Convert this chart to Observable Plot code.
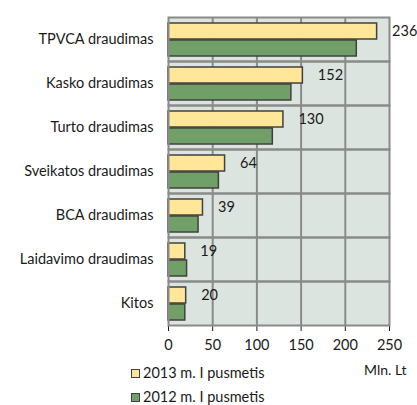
<!DOCTYPE html>
<html>
<head>
<meta charset="utf-8">
<script src="https://cdn.jsdelivr.net/npm/d3@7"></script>
<script src="https://cdn.jsdelivr.net/npm/@observablehq/plot@0.6"></script>
<style>
  body { margin: 0; background: #fff; }
  #wrap { position: relative; width: 417px; height: 405px; font-family: Lato, "Open Sans", sans-serif; font-size: 14.5px; color: #1a1a1a; }
  .leg { position: absolute; left: 131px; display: flex; align-items: center; white-space: nowrap; line-height: 18px; }
  .sw { width: 7px; height: 7px; border: 1px solid #404040; margin-right: 3px; }
  #unit { position: absolute; left: 364px; top: 361px; font-size: 14px; line-height: 18px; }
</style>
</head>
<body>
<div id="wrap"></div>
<script>
const categories = ["TPVCA draudimas","Kasko draudimas","Turto draudimas","Sveikatos draudimas","BCA draudimas","Laidavimo draudimas","Kitos"];
const series = ["2013 m. I pusmetis","2012 m. I pusmetis"];
const values2013 = [236,152,130,64,39,19,20];
const values2012 = [213,139,118,57,34,21,19];
const xTicks = [0,50,100,150,200,250];
const gridLines = [50,100,150,200];
const colors = ["#FFE699","#70A068"];
const unitLabel = "Mln. Lt";

const data = [];
categories.forEach((c, i) => {
  data.push({category: c, series: series[0], value: values2013[i]});
  data.push({category: c, series: series[1], value: values2012[i]});
});
const labels2013 = data.filter(d => d.series === series[0]);

const chart = Plot.plot({
  width: 417,
  height: 360,
  marginLeft: 168,
  marginRight: 28,
  marginTop: 16,
  marginBottom: 35,
  style: {fontFamily: "Lato, 'Open Sans', sans-serif", fontSize: "14.5px", color: "#1a1a1a", background: "transparent"},
  x: {domain: [0, 250], ticks: xTicks, label: null, tickSize: 6, tickPadding: 8},
  fy: {domain: categories, padding: 0, label: null, tickSize: 0, tickPadding: 15, axis: "left"},
  y: {domain: series, paddingInner: 0.06, paddingOuter: 0.32, axis: null},
  color: {domain: series, range: colors},
  marks: [
    Plot.frame({fill: "#DCE4DF", stroke: null}),
    Plot.ruleX(gridLines, {stroke: "#8a8a8a", strokeWidth: 2}),
    Plot.barX(data, {x: "value", y: "series", fy: "category", fill: "series", stroke: "#404040", strokeWidth: 1.5}),
    Plot.text(labels2013, {x: "value", y: "series", fy: "category", text: d => String(d.value), dx: 15, textAnchor: "start", fill: "#1a1a1a", fontSize: 14.5}),
    Plot.frame({stroke: "#8a8a8a", strokeWidth: 2})
  ]
});

const wrap = document.getElementById("wrap");
wrap.appendChild(chart);

series.forEach((s, i) => {
  const d = document.createElement("div");
  d.className = "leg";
  d.style.top = (i === 0 ? 364 : 388) + "px";
  const sw = document.createElement("span");
  sw.className = "sw";
  sw.style.background = colors[i];
  const t = document.createElement("span");
  t.textContent = s;
  d.appendChild(sw);
  d.appendChild(t);
  wrap.appendChild(d);
});
const u = document.createElement("div");
u.id = "unit";
u.textContent = unitLabel;
wrap.appendChild(u);
</script>
</body>
</html>
